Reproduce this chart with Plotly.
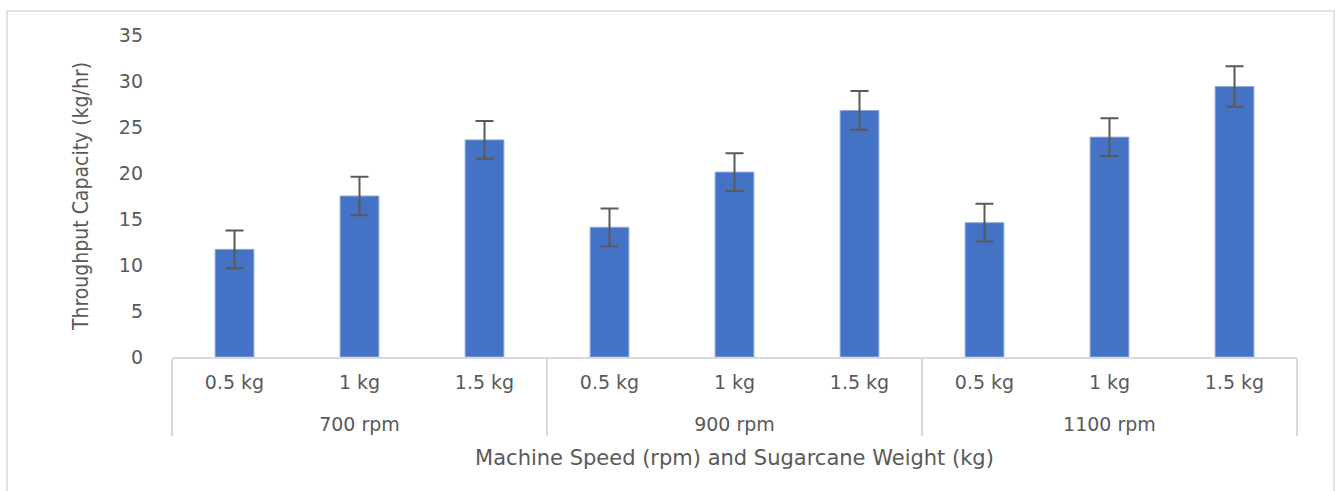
import plotly.graph_objects as go

speed_groups = ["700 rpm", "900 rpm", "1100 rpm"]
weight_levels = ["0.5 kg", "1 kg", "1.5 kg"]
throughput = [11.7, 17.5, 23.6, 14.1, 20.1, 26.8, 14.6, 23.9, 29.4]
errors = [2.05, 2.1, 2.05, 2.05, 2.05, 2.1, 2.05, 2.05, 2.2]
y_ticks = [0, 5, 10, 15, 20, 25, 30, 35]

# two-level category labels (leading break spaces the outer level like Excel)
speeds = ["<br>" + s for s in speed_groups for _ in weight_levels]
weights = [w for _ in speed_groups for w in weight_levels]

font_main = "DejaVu Sans"
grey_text = "#595959"
axis_grey = "#d9d9d9"

fig = go.Figure()
fig.add_trace(go.Bar(
    x=[speeds, weights],
    y=throughput,
    marker=dict(color="#4472C4", line=dict(color="#8FAADC", width=1)),
    width=0.31,
    error_y=dict(type="data", array=errors, visible=True,
                 color="#595959", thickness=2, width=9),
    showlegend=False,
))

fig.update_layout(
    width=1335, height=491,
    margin=dict(l=172, r=38, t=35, b=134),
    paper_bgcolor="white", plot_bgcolor="white",
    font=dict(family=font_main, color=grey_text, size=18),
    xaxis=dict(
        type="multicategory",
        showline=True, linecolor=axis_grey, linewidth=2,
        showgrid=False, zeroline=False,
        ticklabelstandoff=7,
        showdividers=True, dividercolor=axis_grey, dividerwidth=2,
        tickfont=dict(family=font_main, size=19, color=grey_text),
        title=dict(text="Machine Speed (rpm) and Sugarcane Weight (kg)",
                   font=dict(family=font_main, size=21, color=grey_text),
                   standoff=17),
    ),
    yaxis=dict(
        range=[0, 35], tickvals=y_ticks,
        showgrid=False, zeroline=False, showline=False,
        tickfont=dict(family=font_main, size=19, color=grey_text),
        ticklabelstandoff=28,
        title=dict(text="Throughput Capacity (kg/hr)",
                   font=dict(family="DejaVu Sans Condensed", size=21, color=grey_text),
                   standoff=24),
    ),
    shapes=[dict(type="rect", xref="paper", yref="paper",
                 x0=-0.1467, x1=1.0329, y0=-0.45, y1=1.0745,
                 line=dict(color=axis_grey, width=1.5), layer="below")],
)

fig.write_html("out.html")
